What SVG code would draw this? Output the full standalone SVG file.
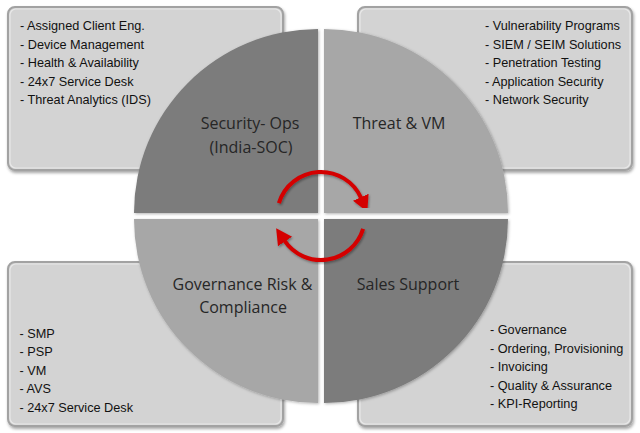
<svg xmlns="http://www.w3.org/2000/svg" width="640" height="433" viewBox="0 0 640 433">
<defs>
<filter id="boxShadow" x="-5%" y="-5%" width="112%" height="115%">
<feDropShadow dx="1" dy="2" stdDeviation="1.5" flood-color="#000" flood-opacity="0.35"/>
</filter>
<filter id="quadShadow" x="-5%" y="-5%" width="112%" height="112%">
<feDropShadow dx="1" dy="1" stdDeviation="1.5" flood-color="#000" flood-opacity="0.3"/>
</filter>
<filter id="arrowShadow" x="-10%" y="-10%" width="125%" height="125%">
<feDropShadow dx="1" dy="1.5" stdDeviation="1" flood-color="#000" flood-opacity="0.35"/>
</filter>
<marker id="head" markerUnits="userSpaceOnUse" markerWidth="20" markerHeight="20" refX="1" refY="0" viewBox="0 -10 20 20" orient="auto">
<path d="M0,-8.5 L16,0 L0,8.5 Z" fill="#d40000"/>
</marker>
</defs>
<style>
.box{fill:#d3d3d3;stroke:#a2a2a2;stroke-width:2;filter:url(#boxShadow)}
.hl{fill:none;stroke:#ececec;stroke-width:1.2;opacity:0.8}
.item{font-family:"Liberation Sans",Arial,sans-serif;font-size:12.7px;fill:#111}
.dark{fill:#7b7b7b;filter:url(#quadShadow)}
.light{fill:#a7a7a7;filter:url(#quadShadow)}
.lbl{font-family:"Open Sans","DejaVu Sans",sans-serif;font-size:16px;fill:#262626;text-anchor:middle}
.arc{fill:none;stroke:#d40000;stroke-width:4;marker-end:url(#head);filter:url(#arrowShadow)}
</style>
<rect width="640" height="433" fill="#ffffff"/>

<g id="box-secops">
<rect class="box" x="8" y="7" width="275" height="163" rx="7"/>
<rect class="hl" x="10" y="9" width="271" height="159" rx="6"/>
<text class="item" x="20" y="30">- Assigned Client Eng.</text>
<text class="item" x="20" y="48.6">- Device Management</text>
<text class="item" x="20" y="67.2">- Health &amp; Availability</text>
<text class="item" x="20" y="85.8">- 24x7 Service Desk</text>
<text class="item" x="20" y="104.4">- Threat Analytics (IDS)</text>
</g>
<g id="box-threat">
<rect class="box" x="358" y="7" width="274" height="163" rx="7"/>
<rect class="hl" x="360" y="9" width="270" height="159" rx="6"/>
<text class="item" x="485" y="30">- Vulnerability Programs</text>
<text class="item" x="485" y="48.6">- SIEM / SEIM Solutions</text>
<text class="item" x="485" y="67.2">- Penetration Testing</text>
<text class="item" x="485" y="85.8">- Application Security</text>
<text class="item" x="485" y="104.4">- Network Security</text>
</g>
<g id="box-grc">
<rect class="box" x="8" y="262" width="275" height="164" rx="7"/>
<rect class="hl" x="10" y="264" width="271" height="160" rx="6"/>
<text class="item" x="19.5" y="337.5">- SMP</text>
<text class="item" x="19.5" y="356.1">- PSP</text>
<text class="item" x="19.5" y="374.7">- VM</text>
<text class="item" x="19.5" y="393.3">- AVS</text>
<text class="item" x="19.5" y="411.9">- 24x7 Service Desk</text>
</g>
<g id="box-sales">
<rect class="box" x="358" y="262" width="274" height="164" rx="7"/>
<rect class="hl" x="360" y="264" width="270" height="160" rx="6"/>
<text class="item" x="490" y="334">- Governance</text>
<text class="item" x="490" y="352.6">- Ordering, Provisioning</text>
<text class="item" x="490" y="371.2">- Invoicing</text>
<text class="item" x="490" y="389.8">- Quality &amp; Assurance</text>
<text class="item" x="490" y="408.4">- KPI-Reporting</text>
</g>

<g id="quad-secops">
<path class="dark" d="M318,213 L134,213 A184,184 0 0 1 318,29 Z"/>
<text class="lbl" x="250" y="129">Security- Ops</text>
<text class="lbl" x="251" y="152.5">(India-SOC)</text>
</g>
<g id="quad-threat">
<path class="light" d="M324,213 L324,29 A184,184 0 0 1 508,213 Z"/>
<text class="lbl" x="399" y="129">Threat &amp; VM</text>
</g>
<g id="quad-grc">
<path class="light" d="M318,219 L318,403 A184,184 0 0 1 134,219 Z"/>
<text class="lbl" x="242.5" y="289.5">Governance Risk &amp;</text>
<text class="lbl" x="243" y="313">Compliance</text>
</g>
<g id="quad-sales">
<path class="dark" d="M324,219 L508,219 A184,184 0 0 1 324,403 Z"/>
<text class="lbl" x="408" y="289.5">Sales Support</text>
</g>

<g id="connectors">
<path class="arc" d="M278.9,203.1 A44,44 0 0 1 361.2,198.1"/>
<path class="arc" d="M363.1,228.9 A44,44 0 0 1 284.5,240.6"/>
</g>
</svg>
